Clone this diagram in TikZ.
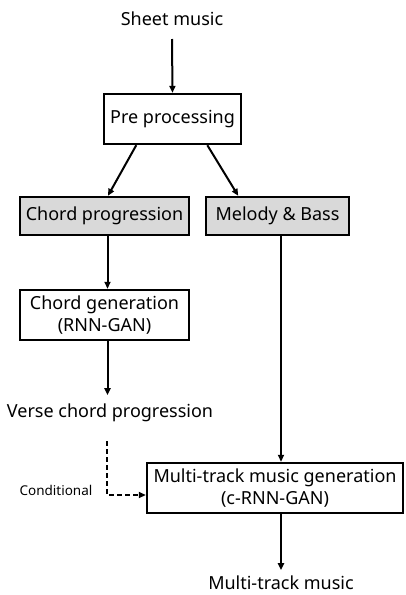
\documentclass[tikz,border=0pt]{standalone}
\usepackage{fontspec}
\setmainfont{Noto Sans}
\usetikzlibrary{arrows.meta,calc}
\begin{document}
\begin{tikzpicture}[x=1pt,y=-1pt,
  every node/.style={font=\fontsize{18}{22}\selectfont},
  box/.style={draw,line width=2.4pt,inner sep=0pt,align=center},
  graybox/.style={box,fill=black!15},
  conn/.style={line width=2pt,-{Triangle[length=7pt,width=6pt]}},
  dconn/.style={conn,dash pattern=on 5pt off 3pt}]
\useasboundingbox (0,0) rectangle (405,595);
\node (sheet) at (172,19) {Sheet music};
\node[box,minimum width=137pt,minimum height=50pt] (pre) at (172.5,119) {Pre processing};
\node[graybox,minimum width=169pt,minimum height=38pt] (cp) at (104.5,216) {Chord progression};
\node[graybox,minimum width=143pt,minimum height=38pt] (mb) at (277.5,216) {Melody \& Bass};
\node[box,minimum width=169pt,minimum height=50pt] (cg) at (104.5,315) {Chord generation\\(RNN-GAN)};
\node (verse) at (110,413) {Verse chord progression};
\node[box,minimum width=256pt,minimum height=50pt] (mt) at (275,488) {Multi-track music generation\\(c-RNN-GAN)};
\node (out) at (281,583) {Multi-track music};
\node[font=\fontsize{13.5}{16}\selectfont] (cond) at (56,490) {Conditional};
\coordinate (dstart) at (107,441);
\coordinate (dcorner) at (107,495);
\coordinate (mbout) at ($(mb.south)+(3.5,0)$);
\draw[conn] (sheet.south |- 0,39) -- (pre.north);
\draw[conn] ($(pre.south west)!0.24!(pre.south east)$) -- ($(cp.north west)!0.52!(cp.north east)$);
\draw[conn] ($(pre.south west)!0.75!(pre.south east)$) -- ($(mb.north west)!0.23!(mb.north east)$);
\draw[conn] ($(cp.south)+(3,0)$) -- ($(cg.north)+(3,0)$);
\draw[conn] ($(cg.south)+(3,0)$) -- ($(cg.south)+(3,54)$);
\draw[conn] (mbout) -- (mbout |- mt.north);
\draw[dconn] (dstart) -- (dcorner) -- (dcorner -| mt.west);
\draw[conn] ($(mt.south)+(6,0)$) -- ($(mt.south)+(6,56)$);
\end{tikzpicture}
\end{document}
